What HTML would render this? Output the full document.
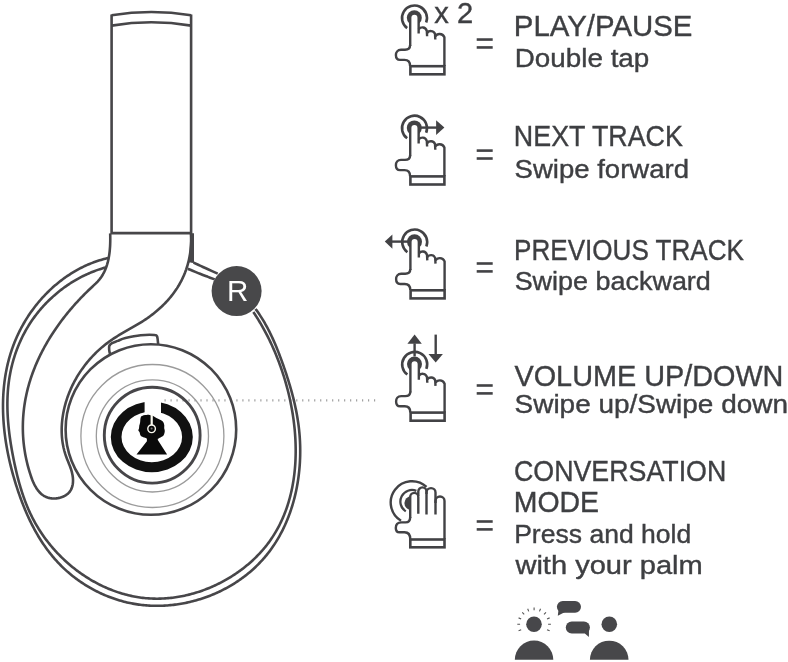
<!DOCTYPE html>
<html><head><meta charset="utf-8"><style>
html,body{margin:0;padding:0;background:#fff;}
svg{display:block;}
</style></head><body>
<svg width="788" height="662" viewBox="0 0 788 662">
<path d="M165.10,399.2v2.4 M171.09,399.2v2.4 M177.07,399.2v2.4 M183.06,399.2v2.4 M189.04,399.2v2.4 M195.03,399.2v2.4 M201.02,399.2v2.4 M207.00,399.2v2.4 M212.99,399.2v2.4 M218.97,399.2v2.4 M224.96,399.2v2.4 M230.95,399.2v2.4 M236.93,399.2v2.4 M242.92,399.2v2.4 M248.90,399.2v2.4 M254.89,399.2v2.4 M260.88,399.2v2.4 M266.86,399.2v2.4 M272.85,399.2v2.4 M278.83,399.2v2.4 M284.82,399.2v2.4 M290.81,399.2v2.4 M296.79,399.2v2.4 M302.78,399.2v2.4 M308.76,399.2v2.4 M314.75,399.2v2.4 M320.74,399.2v2.4 M326.72,399.2v2.4 M332.71,399.2v2.4 M338.69,399.2v2.4 M344.68,399.2v2.4 M350.67,399.2v2.4 M356.65,399.2v2.4 M362.64,399.2v2.4 M368.62,399.2v2.4 M374.61,399.2v2.4" stroke="#9a9a9a" stroke-width="1.1" fill="none"/>
<g fill="none" stroke="#474649" stroke-width="2.6" stroke-linejoin="round" stroke-linecap="butt">
<path d="M111.6,15.3 Q151.3,8.6 191.1,15.3"/>
<path d="M111.6,25.6 Q151.3,18.9 191.1,25.6"/>
<path d="M111.6,14.5 L111.6,233.1 M191.1,14.5 L191.1,233.1 M110.3,233.1 L192.4,233.1 M192.7,233.5 L192.7,262.8"/>
<path d="M110.18,233.38L110.22,234.78L110.25,236.20L110.26,237.64L110.27,239.11L110.26,240.59L110.23,242.09L110.19,243.60L110.13,245.12L110.05,246.64L109.94,248.18L109.82,249.72L109.67,251.26L109.49,252.80L109.29,254.34L109.06,255.87L108.80,257.40L108.51,258.92L108.18,260.43L107.83,261.92L107.43,263.40L107.00,264.87L106.53,266.31L106.02,267.73L105.47,269.13L104.88,270.51L104.25,271.86L103.58,273.18L102.86,274.48L102.10,275.74L101.30,276.97L100.45,278.16L99.55,279.32L98.61,280.44L97.63,281.53L96.61,282.59L95.57,283.63L94.50,284.65L93.42,285.66L92.33,286.68L91.24,287.69L90.16,288.71L89.08,289.74L88.00,290.77L86.93,291.81L85.87,292.86L84.80,293.92L83.75,294.98L82.70,296.06L81.65,297.13L80.61,298.22L79.57,299.31L78.54,300.41L77.52,301.51L76.50,302.62L75.49,303.74L74.48,304.87L73.48,306.00L72.49,307.14L71.50,308.28L70.52,309.43L69.54,310.59L68.57,311.76L67.61,312.93L66.66,314.10L65.71,315.28L64.77,316.47L63.84,317.67L62.92,318.87L62.00,320.07L61.09,321.29L60.19,322.50L59.29,323.73L58.41,324.96L57.53,326.19L56.66,327.43L55.80,328.68L54.94,329.93L54.10,331.19L53.26,332.45L52.44,333.72L51.62,334.99L50.81,336.27L50.01,337.56L49.22,338.84L48.44,340.14L47.66,341.44L46.90,342.74L46.15,344.05L45.41,345.36L44.67,346.68L43.95,348.00L43.24,349.33L42.54,350.66L41.85,352.00L41.17,353.34L40.49,354.69L39.84,356.04L39.19,357.40L38.55,358.75L37.92,360.12L37.31,361.49L36.70,362.86L36.11,364.23L35.53,365.61L34.96,367.00L34.40,368.39L33.86,369.78L33.32,371.17L32.80,372.57L32.29,373.98L31.80,375.38L31.31,376.79L30.84,378.21L30.38,379.63L29.94,381.05L29.50,382.47L29.08,383.90L28.68,385.33L28.28,386.77L27.90,388.20L27.53,389.65L27.18,391.09L26.84,392.54L26.51,393.99L26.20,395.44L25.90,396.89L25.61,398.35L25.34,399.81L25.08,401.28L24.83,402.74L24.60,404.21L24.39,405.68L24.18,407.16L23.99,408.63L23.82,410.11L23.66,411.59L23.51,413.07L23.38,414.56L23.26,416.04L23.16,417.53L23.07,419.02L22.99,420.51L22.93,422.01L22.89,423.50L22.86,425.00L22.84,426.50L22.84,428.00L22.85,429.50L22.88,431.01L22.93,432.51L22.99,434.02L23.06,435.53L23.15,437.03L23.26,438.54L23.38,440.05L23.51,441.57L23.66,443.08L23.83,444.59L24.01,446.11L24.21,447.62L24.43,449.14L24.66,450.65L24.90,452.17L25.16,453.69L25.44,455.21L25.74,456.73L26.05,458.24L26.37,459.76L26.72,461.28L27.07,462.80L27.45,464.32L27.84,465.84L28.25,467.36L28.67,468.88L29.12,470.40L29.57,471.92L30.05,473.44L30.54,474.95L31.06,476.46L31.59,477.96L32.15,479.44L32.74,480.90L33.35,482.33L34.00,483.73L34.68,485.10L35.39,486.42L36.15,487.70L36.94,488.93L37.78,490.11L38.65,491.23L39.58,492.28L40.55,493.27L41.58,494.19L42.66,495.02L43.79,495.78L44.98,496.44L46.23,497.02L47.54,497.50L48.91,497.88L50.32,498.17L51.76,498.36L53.24,498.45L54.72,498.45L56.22,498.36L57.70,498.17L59.17,497.89L60.62,497.52L62.02,497.06L63.39,496.51L64.69,495.86L65.93,495.13L67.09,494.31L68.17,493.40L69.14,492.41L70.01,491.33L70.76,490.16L71.40,488.92L71.92,487.60L72.34,486.23L72.65,484.80L72.86,483.33L72.98,481.83L73.01,480.31L72.96,478.77L72.83,477.23L72.62,475.70L72.34,474.18L72.00,472.67L71.61,471.19L71.16,469.72L70.68,468.26L70.16,466.81L69.61,465.37L69.05,463.94L68.48,462.51L67.90,461.08L67.33,459.65L66.77,458.23L66.23,456.79L65.72,455.35L65.24,453.91L64.80,452.46L64.38,451.00L64.00,449.53L63.64,448.06L63.32,446.59L63.03,445.11L62.76,443.62L62.53,442.13L62.33,440.64L62.15,439.15L62.00,437.65L61.88,436.15L61.79,434.65L61.73,433.14L61.69,431.64L61.68,430.13L61.69,428.63L61.73,427.12L61.80,425.62L61.89,424.11L62.00,422.61L62.14,421.11L62.30,419.61L62.49,418.12L62.70,416.62L62.93,415.14L63.18,413.65L63.46,412.17L63.75,410.69L64.07,409.22L64.41,407.76L64.77,406.30L65.15,404.84L65.55,403.39L65.97,401.95L66.41,400.51L66.87,399.08L67.35,397.66L67.85,396.24L68.37,394.83L68.91,393.43L69.47,392.03L70.05,390.64L70.64,389.26L71.26,387.89L71.89,386.52L72.54,385.17L73.21,383.82L73.89,382.48L74.60,381.15L75.32,379.83L76.06,378.52L76.81,377.22L77.58,375.93L78.37,374.64L79.18,373.37L80.00,372.11L80.84,370.86L81.69,369.62L82.56,368.39L83.45,367.17L84.35,365.97L85.26,364.77L86.19,363.59L87.14,362.42L88.10,361.26L89.07,360.11L90.06,358.98L91.07,357.86L92.08,356.75L93.12,355.65L94.16,354.57L95.22,353.51L96.29,352.45L97.37,351.41L98.47,350.38L99.58,349.37L100.70,348.38L101.84,347.39L102.98,346.43L104.14,345.47L105.31,344.54L106.50,343.62L107.69,342.71L108.89,341.82L110.11,340.95L111.34,340.09L112.57,339.25L113.82,338.42L115.07,337.61L116.34,336.80L117.61,336.01L118.89,335.23L120.17,334.46L121.46,333.69L122.75,332.93L124.05,332.18L125.35,331.43L126.65,330.68L127.96,329.94L129.26,329.19L130.57,328.45L131.88,327.70L133.18,326.95L134.49,326.20L135.79,325.44L137.09,324.68L138.38,323.91L139.67,323.13L140.96,322.34L142.24,321.54L143.51,320.73L144.78,319.91L146.04,319.07L147.29,318.22L148.53,317.35L149.76,316.47L150.98,315.57L152.19,314.65L153.39,313.72L154.58,312.78L155.76,311.82L156.92,310.84L158.07,309.85L159.21,308.84L160.33,307.82L161.45,306.79L162.54,305.74L163.62,304.68L164.69,303.60L165.74,302.51L166.77,301.40L167.79,300.28L168.79,299.15L169.77,298.00L170.74,296.84L171.68,295.67L172.61,294.48L173.52,293.28L174.41,292.07L175.28,290.84L176.12,289.60L176.95,288.35L177.75,287.08L178.54,285.81L179.30,284.52L180.03,283.22L180.75,281.90L181.44,280.58L182.11,279.24L182.75,277.89L183.37,276.53L183.97,275.16L184.55,273.78L185.10,272.40L185.62,271.00L186.13,269.59L186.60,268.17L187.06,266.75L187.49,265.32L187.90,263.88L188.28,262.43L188.64,260.97L188.98,259.51L189.29,258.04L189.58,256.57L189.84,255.09L190.08,253.60L190.29,252.11L190.48,250.62L190.64,249.12L190.78,247.61L190.90,246.10L190.99,244.59L191.05,243.08L191.09,241.56L191.11,240.04L191.10,238.52L191.06,237.00L191.00,235.47L190.92,233.94"/>
<path d="M190.2,233.5 L194,233.5 L194,262.6 L188.4,262.6 C189.4,255 190.1,245 190.2,233.5 Z" fill="#474649" stroke="none"/>
<path d="M108.34,257.93L106.85,258.28L105.37,258.66L103.89,259.05L102.42,259.46L100.96,259.89L99.50,260.34L98.06,260.80L96.62,261.29L95.19,261.79L93.76,262.31L92.35,262.85L90.94,263.40L89.54,263.98L88.15,264.57L86.77,265.17L85.39,265.80L84.03,266.44L82.67,267.10L81.32,267.77L79.98,268.46L78.65,269.16L77.33,269.88L76.01,270.62L74.71,271.37L73.41,272.14L72.13,272.92L70.85,273.72L69.58,274.53L68.32,275.36L67.08,276.20L65.84,277.05L64.61,277.92L63.39,278.80L62.18,279.70L60.98,280.61L59.79,281.53L58.61,282.47L57.44,283.42L56.29,284.38L55.14,285.36L54.00,286.34L52.87,287.34L51.76,288.36L50.65,289.38L49.56,290.42L48.48,291.46L47.40,292.52L46.34,293.59L45.29,294.67L44.25,295.77L43.23,296.87L42.21,297.98L41.21,299.11L40.21,300.24L39.23,301.38L38.26,302.54L37.31,303.70L36.36,304.88L35.43,306.06L34.51,307.25L33.60,308.45L32.70,309.66L31.82,310.88L30.95,312.11L30.09,313.34L29.24,314.59L28.41,315.84L27.59,317.10L26.78,318.37L25.99,319.64L25.21,320.92L24.44,322.21L23.69,323.51L22.94,324.81L22.22,326.12L21.50,327.44L20.80,328.76L20.11,330.09L19.44,331.43L18.78,332.77L18.14,334.11L17.50,335.46L16.89,336.82L16.29,338.18L15.70,339.55L15.12,340.92L14.56,342.30L14.02,343.68L13.49,345.06L12.97,346.45L12.47,347.85L11.98,349.25L11.50,350.65L11.04,352.05L10.60,353.47L10.16,354.88L9.74,356.30L9.34,357.72L8.94,359.15L8.56,360.57L8.20,362.01L7.84,363.44L7.50,364.88L7.18,366.33L6.86,367.77L6.56,369.22L6.28,370.67L6.00,372.13L5.74,373.59L5.49,375.05L5.25,376.51L5.02,377.98L4.81,379.45L4.61,380.92L4.42,382.39L4.25,383.87L4.08,385.35L3.93,386.83L3.79,388.31L3.66,389.80L3.54,391.29L3.44,392.77L3.34,394.27L3.26,395.76L3.19,397.25L3.13,398.75L3.08,400.24L3.05,401.74L3.02,403.24L3.00,404.74L3.00,406.25L3.01,407.75L3.02,409.25L3.05,410.76L3.09,412.27L3.14,413.77L3.20,415.28L3.27,416.79L3.35,418.30L3.44,419.81L3.54,421.32L3.65,422.83L3.77,424.34L3.90,425.85L4.04,427.36L4.19,428.87L4.35,430.38L4.51,431.89L4.69,433.40L4.88,434.91L5.08,436.42L5.28,437.93L5.50,439.44L5.72,440.95L5.95,442.45L6.20,443.96L6.45,445.47L6.71,446.97L6.98,448.47L7.25,449.98L7.54,451.48L7.83,452.98L8.13,454.48L8.44,455.97L8.76,457.47L9.09,458.96L9.42,460.46L9.76,461.95L10.11,463.44L10.47,464.92L10.84,466.41L11.21,467.89L11.59,469.37L11.98,470.85L12.38,472.33L12.78,473.81L13.19,475.28L13.61,476.75L14.03,478.21L14.46,479.68L14.90,481.14L15.34,482.60L15.80,484.05L16.25,485.51L16.72,486.96L17.19,488.40L17.67,489.85L18.15,491.29L18.64,492.72L19.14,494.16L19.64,495.59L20.15,497.01L20.67,498.44L21.19,499.85L21.72,501.27L22.26,502.68L22.81,504.08L23.36,505.48L23.92,506.88L24.49,508.27L25.06,509.66L25.65,511.04L26.24,512.42L26.83,513.79L27.44,515.16L28.06,516.52L28.68,517.88L29.31,519.23L29.95,520.57L30.60,521.91L31.26,523.24L31.93,524.57L32.60,525.89L33.29,527.21L33.98,528.51L34.68,529.82L35.39,531.11L36.12,532.40L36.85,533.68L37.59,534.96L38.34,536.22L39.10,537.48L39.87,538.74L40.66,539.98L41.45,541.22L42.25,542.45L43.06,543.67L43.88,544.89L44.72,546.09L45.56,547.29L46.42,548.48L47.29,549.66L48.16,550.83L49.05,552.00L49.95,553.16L50.87,554.30L51.79,555.44L52.73,556.57L53.67,557.69L54.63,558.80L55.60,559.90L56.59,560.99L57.58,562.07L58.59,563.15L59.61,564.21L60.65,565.26L61.69,566.30L62.75,567.33L63.82,568.36L64.91,569.37L66.00,570.37L67.11,571.36L68.24,572.34L69.37,573.30L70.52,574.26L71.68,575.20L72.85,576.14L74.03,577.06L75.22,577.97L76.42,578.87L77.64,579.76L78.86,580.63L80.10,581.49L81.35,582.34L82.60,583.18L83.87,584.00L85.14,584.81L86.43,585.61L87.72,586.39L89.03,587.16L90.34,587.92L91.66,588.67L92.99,589.40L94.33,590.11L95.67,590.81L97.03,591.50L98.39,592.17L99.76,592.83L101.13,593.48L102.52,594.11L103.91,594.72L105.30,595.32L106.71,595.90L108.12,596.47L109.53,597.02L110.96,597.56L112.38,598.08L113.82,598.59L115.25,599.08L116.70,599.55L118.15,600.00L119.60,600.44L121.06,600.87L122.52,601.27L123.98,601.66L125.45,602.03L126.93,602.39L128.40,602.72L129.88,603.04L131.37,603.34L132.85,603.63L134.34,603.89L135.84,604.14L137.33,604.37L138.83,604.59L140.33,604.78L141.83,604.96L143.33,605.12L144.83,605.27L146.34,605.40L147.85,605.51L149.35,605.60L150.86,605.68L152.37,605.74L153.88,605.78L155.39,605.81L156.91,605.82L158.42,605.81L159.93,605.79L161.44,605.75L162.95,605.69L164.46,605.62L165.97,605.53L167.48,605.43L168.98,605.30L170.49,605.17L171.99,605.02L173.50,604.85L175.00,604.66L176.49,604.46L177.99,604.25L179.49,604.01L180.98,603.77L182.47,603.51L183.95,603.23L185.44,602.93L186.92,602.63L188.39,602.30L189.87,601.96L191.34,601.61L192.80,601.24L194.27,600.86L195.72,600.46L197.18,600.04L198.63,599.62L200.07,599.17L201.51,598.72L202.94,598.24L204.37,597.76L205.80,597.26L207.21,596.74L208.63,596.21L210.03,595.67L211.43,595.11L212.83,594.54L214.22,593.95L215.60,593.35L216.97,592.74L218.34,592.11L219.70,591.47L221.05,590.81L222.40,590.15L223.74,589.46L225.07,588.77L226.39,588.06L227.71,587.34L229.01,586.60L230.31,585.85L231.60,585.09L232.88,584.31L234.15,583.53L235.42,582.73L236.67,581.91L237.91,581.08L239.15,580.25L240.37,579.39L241.59,578.53L242.79,577.65L243.99,576.76L245.17,575.86L246.34,574.94L247.50,574.02L248.65,573.08L249.79,572.13L250.92,571.16L252.04,570.19L253.15,569.20L254.24,568.20L255.32,567.19L256.39,566.17L257.45,565.14L258.49,564.09L259.52,563.03L260.54,561.96L261.55,560.88L262.54,559.79L263.52,558.69L264.49,557.58L265.44,556.45L266.38,555.32L267.30,554.17L268.22,553.01L269.11,551.84L270.00,550.67L270.87,549.48L271.73,548.28L272.58,547.07L273.41,545.85L274.23,544.63L275.03,543.39L275.83,542.15L276.60,540.89L277.37,539.63L278.12,538.36L278.86,537.07L279.59,535.78L280.30,534.49L281.01,533.18L281.69,531.87L282.37,530.54L283.03,529.21L283.68,527.88L284.31,526.53L284.94,525.18L285.55,523.82L286.15,522.46L286.73,521.08L287.30,519.70L287.86,518.32L288.41,516.93L288.94,515.53L289.46,514.12L289.97,512.71L290.47,511.29L290.95,509.87L291.42,508.45L291.88,507.01L292.32,505.57L292.76,504.13L293.18,502.68L293.58,501.23L293.98,499.77L294.36,498.31L294.73,496.85L295.09,495.38L295.44,493.90L295.77,492.43L296.09,490.94L296.40,489.46L296.70,487.97L296.98,486.48L297.25,484.99L297.51,483.49L297.76,481.99L298.00,480.48L298.22,478.98L298.43,477.47L298.63,475.96L298.82,474.45L299.00,472.94L299.16,471.42L299.31,469.91L299.45,468.39L299.58,466.87L299.70,465.35L299.80,463.83L299.89,462.30L299.97,460.78L300.04,459.26L300.10,457.73L300.15,456.21L300.18,454.69L300.20,453.16L300.21,451.64L300.21,450.11L300.20,448.59L300.17,447.07L300.14,445.55L300.09,444.03L300.03,442.51L299.96,440.99L299.88,439.48L299.78,437.96L299.68,436.45L299.56,434.94L299.43,433.43L299.29,431.92L299.14,430.42L298.98,428.92L298.81,427.42L298.63,425.92L298.43,424.43L298.23,422.93L298.01,421.45L297.78,419.96L297.55,418.47L297.30,416.99L297.04,415.51L296.78,414.04L296.50,412.56L296.22,411.09L295.92,409.62L295.62,408.15L295.31,406.68L294.99,405.22L294.66,403.76L294.32,402.30L293.98,400.84L293.62,399.39L293.26,397.93L292.89,396.48L292.52,395.03L292.13,393.59L291.74,392.14L291.34,390.70L290.94,389.26L290.53,387.82L290.11,386.38L289.69,384.94L289.26,383.51L288.82,382.08L288.38,380.65L287.93,379.22L287.48,377.79L287.02,376.37L286.56,374.94L286.09,373.52L285.62,372.10L285.14,370.68L284.66,369.26L284.17,367.85L283.68,366.43L283.19,365.02L282.69,363.61L282.19,362.20L281.68,360.79L281.17,359.39L280.65,357.98L280.13,356.58L279.61,355.18L279.07,353.79L278.53,352.39L277.99,351.00L277.44,349.61L276.88,348.23L276.31,346.85L275.74,345.47L275.16,344.09L274.57,342.72L273.97,341.36L273.37,340.00L272.75,338.64L272.13,337.28L271.50,335.93L270.85,334.59L270.20,333.25L269.54,331.91L268.86,330.58L268.18,329.26L267.48,327.94L266.78,326.63L266.06,325.32L265.33,324.02L264.58,322.72L263.83,321.43L263.06,320.15L262.28,318.87L261.48,317.60L260.67,316.34L259.85,315.09L259.02,313.84L258.16,312.59L257.30,311.36L256.42,310.13L255.52,308.92"/>
<path d="M105.74,267.41L104.29,267.82L102.84,268.24L101.40,268.69L99.96,269.15L98.53,269.63L97.10,270.13L95.68,270.64L94.27,271.17L92.86,271.72L91.46,272.29L90.06,272.87L88.68,273.47L87.29,274.09L85.92,274.72L84.55,275.37L83.19,276.03L81.84,276.71L80.50,277.41L79.16,278.12L77.83,278.85L76.51,279.59L75.20,280.35L73.89,281.12L72.60,281.91L71.31,282.71L70.03,283.52L68.76,284.35L67.50,285.20L66.25,286.06L65.01,286.93L63.78,287.82L62.56,288.72L61.35,289.63L60.15,290.56L58.96,291.50L57.78,292.45L56.62,293.42L55.46,294.40L54.31,295.39L53.18,296.39L52.05,297.41L50.94,298.43L49.84,299.47L48.75,300.52L47.68,301.59L46.61,302.66L45.56,303.75L44.52,304.84L43.50,305.95L42.48,307.07L41.48,308.20L40.49,309.34L39.52,310.49L38.56,311.65L37.61,312.82L36.68,314.01L35.76,315.20L34.86,316.40L33.97,317.61L33.09,318.83L32.23,320.06L31.39,321.29L30.55,322.54L29.74,323.80L28.94,325.06L28.15,326.33L27.38,327.61L26.62,328.90L25.88,330.20L25.15,331.50L24.44,332.81L23.74,334.13L23.06,335.46L22.39,336.79L21.74,338.14L21.10,339.48L20.47,340.84L19.87,342.20L19.27,343.57L18.69,344.94L18.13,346.32L17.58,347.70L17.04,349.09L16.52,350.49L16.01,351.89L15.52,353.30L15.05,354.71L14.58,356.13L14.14,357.55L13.70,358.98L13.28,360.41L12.88,361.84L12.49,363.28L12.12,364.72L11.76,366.17L11.41,367.62L11.08,369.07L10.77,370.53L10.47,371.99L10.18,373.45L9.91,374.92L9.65,376.38L9.41,377.86L9.18,379.33L8.97,380.80L8.77,382.28L8.58,383.76L8.41,385.24L8.26,386.72L8.11,388.21L7.98,389.69L7.87,391.18L7.76,392.67L7.67,394.16L7.60,395.65L7.53,397.15L7.48,398.64L7.44,400.14L7.41,401.64L7.39,403.13L7.39,404.63L7.40,406.13L7.42,407.64L7.45,409.14L7.49,410.64L7.54,412.14L7.60,413.65L7.67,415.15L7.76,416.66L7.85,418.16L7.95,419.67L8.06,421.17L8.19,422.68L8.32,424.19L8.46,425.69L8.61,427.20L8.77,428.71L8.93,430.21L9.11,431.72L9.29,433.22L9.48,434.73L9.68,436.23L9.89,437.74L10.11,439.24L10.33,440.75L10.56,442.25L10.79,443.75L11.04,445.25L11.29,446.75L11.54,448.25L11.81,449.75L12.07,451.25L12.35,452.74L12.63,454.24L12.92,455.73L13.21,457.22L13.50,458.71L13.80,460.20L14.11,461.69L14.42,463.18L14.74,464.66L15.06,466.14L15.39,467.62L15.72,469.10L16.06,470.58L16.41,472.05L16.76,473.52L17.12,474.99L17.49,476.45L17.86,477.92L18.24,479.37L18.63,480.83L19.03,482.28L19.43,483.73L19.84,485.18L20.27,486.62L20.70,488.06L21.14,489.50L21.59,490.93L22.04,492.36L22.51,493.78L22.99,495.20L23.48,496.62L23.97,498.03L24.48,499.43L25.00,500.83L25.53,502.23L26.07,503.62L26.63,505.01L27.19,506.39L27.77,507.77L28.36,509.14L28.96,510.50L29.57,511.86L30.20,513.21L30.84,514.56L31.49,515.90L32.16,517.24L32.83,518.57L33.53,519.89L34.23,521.21L34.96,522.52L35.69,523.82L36.44,525.12L37.20,526.41L37.98,527.69L38.76,528.97L39.57,530.23L40.38,531.50L41.21,532.75L42.05,533.99L42.90,535.23L43.77,536.46L44.64,537.68L45.53,538.90L46.44,540.10L47.35,541.30L48.28,542.48L49.21,543.66L50.16,544.83L51.13,545.99L52.10,547.15L53.08,548.29L54.08,549.42L55.08,550.55L56.10,551.66L57.13,552.77L58.17,553.86L59.22,554.95L60.28,556.02L61.35,557.09L62.43,558.14L63.52,559.18L64.62,560.22L65.73,561.24L66.85,562.25L67.98,563.25L69.12,564.24L70.27,565.22L71.42,566.19L72.59,567.14L73.77,568.09L74.95,569.02L76.14,569.94L77.35,570.85L78.56,571.74L79.78,572.63L81.00,573.50L82.24,574.36L83.48,575.20L84.73,576.04L85.99,576.86L87.26,577.66L88.53,578.46L89.81,579.24L91.10,580.01L92.40,580.76L93.70,581.50L95.01,582.23L96.33,582.94L97.65,583.64L98.98,584.33L100.32,585.00L101.66,585.65L103.01,586.30L104.37,586.92L105.73,587.54L107.10,588.13L108.47,588.72L109.85,589.28L111.23,589.83L112.62,590.37L114.02,590.89L115.42,591.40L116.82,591.89L118.23,592.36L119.65,592.82L121.06,593.26L122.49,593.68L123.92,594.09L125.35,594.49L126.78,594.86L128.22,595.22L129.67,595.56L131.12,595.89L132.57,596.19L134.02,596.48L135.48,596.76L136.94,597.01L138.41,597.25L139.88,597.47L141.35,597.67L142.82,597.86L144.30,598.02L145.78,598.17L147.26,598.30L148.74,598.41L150.23,598.50L151.71,598.57L153.20,598.63L154.70,598.66L156.19,598.68L157.68,598.68L159.18,598.66L160.67,598.62L162.17,598.57L163.67,598.50L165.17,598.41L166.66,598.30L168.16,598.17L169.66,598.03L171.15,597.87L172.65,597.69L174.14,597.49L175.64,597.28L177.13,597.05L178.62,596.81L180.11,596.54L181.60,596.26L183.08,595.97L184.57,595.65L186.05,595.33L187.53,594.98L189.00,594.62L190.47,594.24L191.94,593.85L193.41,593.44L194.87,593.02L196.33,592.58L197.78,592.12L199.23,591.65L200.68,591.17L202.12,590.66L203.55,590.15L204.98,589.62L206.41,589.07L207.83,588.51L209.24,587.93L210.65,587.34L212.05,586.74L213.45,586.12L214.84,585.49L216.22,584.84L217.60,584.18L218.97,583.51L220.33,582.82L221.69,582.12L223.03,581.40L224.37,580.67L225.71,579.93L227.03,579.17L228.34,578.40L229.65,577.62L230.95,576.83L232.24,576.02L233.52,575.20L234.79,574.37L236.05,573.52L237.30,572.66L238.54,571.79L239.77,570.91L240.99,570.01L242.20,569.11L243.40,568.19L244.59,567.26L245.77,566.32L246.93,565.36L248.09,564.40L249.23,563.42L250.36,562.43L251.48,561.44L252.58,560.43L253.68,559.40L254.76,558.37L255.83,557.33L256.88,556.28L257.92,555.21L258.95,554.14L259.97,553.06L260.97,551.96L261.95,550.86L262.93,549.74L263.88,548.62L264.83,547.48L265.76,546.34L266.67,545.19L267.57,544.03L268.45,542.85L269.32,541.67L270.17,540.48L271.01,539.28L271.83,538.07L272.63,536.86L273.42,535.63L274.20,534.40L274.96,533.15L275.71,531.90L276.44,530.64L277.15,529.38L277.85,528.10L278.54,526.82L279.21,525.53L279.87,524.23L280.51,522.92L281.14,521.61L281.75,520.29L282.35,518.96L282.94,517.63L283.51,516.28L284.07,514.94L284.61,513.58L285.14,512.22L285.66,510.85L286.16,509.48L286.65,508.10L287.12,506.71L287.58,505.32L288.03,503.92L288.46,502.52L288.88,501.11L289.29,499.69L289.68,498.27L290.06,496.84L290.43,495.41L290.79,493.98L291.13,492.54L291.46,491.09L291.77,489.64L292.08,488.19L292.37,486.73L292.64,485.27L292.91,483.80L293.16,482.33L293.40,480.85L293.63,479.37L293.84,477.89L294.05,476.40L294.24,474.91L294.42,473.42L294.58,471.92L294.74,470.42L294.88,468.92L295.01,467.41L295.13,465.90L295.24,464.39L295.33,462.88L295.42,461.36L295.49,459.85L295.55,458.32L295.60,456.80L295.64,455.28L295.67,453.75L295.69,452.22L295.69,450.69L295.69,449.16L295.67,447.63L295.64,446.10L295.60,444.56L295.55,443.02L295.49,441.49L295.42,439.95L295.34,438.41L295.25,436.87L295.15,435.33L295.04,433.79L294.91,432.26L294.78,430.72L294.64,429.18L294.49,427.64L294.32,426.10L294.15,424.56L293.97,423.02L293.77,421.48L293.57,419.95L293.36,418.41L293.14,416.87L292.91,415.34L292.67,413.81L292.42,412.28L292.16,410.75L291.89,409.22L291.61,407.69L291.33,406.17L291.03,404.64L290.72,403.12L290.41,401.61L290.09,400.09L289.76,398.58L289.42,397.06L289.07,395.56L288.71,394.05L288.34,392.55L287.97,391.05L287.59,389.55L287.20,388.06L286.80,386.57L286.39,385.08L285.97,383.60L285.55,382.12L285.12,380.64L284.68,379.17L284.23,377.70L283.78,376.24L283.32,374.78L282.84,373.32L282.37,371.87L281.88,370.43L281.39,368.99L280.89,367.55L280.38,366.12L279.87,364.69L279.34,363.27L278.82,361.86L278.28,360.45L277.74,359.04L277.19,357.65L276.63,356.25L276.07,354.87L275.50,353.48L274.92,352.11L274.34,350.74L273.75,349.38L273.15,348.02L272.55,346.68L271.94,345.33L271.32,344.00L270.70,342.67L270.08,341.35L269.44,340.04L268.80,338.73L268.16,337.43L267.51,336.14L266.85,334.86L266.19,333.58L265.52,332.31L264.85,331.05L264.17,329.80L263.48,328.56L262.79,327.32L262.10,326.10L261.40,324.88L260.70,323.67L259.98,322.47L259.27,321.28L258.55,320.10L257.82,318.93L257.10,317.76L256.36,316.61L255.62,315.46L254.88,314.33L254.13,313.21L253.38,312.09"/>
<path d="M193.5,262.6 C194.6,263.1 197.6,264.5 200.0,265.6 C202.4,266.7 205.1,268.0 208.0,269.3 C210.9,270.6 216.1,272.9 217.7,273.6"/>
<path d="M187.9,268.7 C189.9,269.6 196.7,272.4 200.0,273.8 C203.3,275.2 205.6,276.0 208.0,276.9 C210.4,277.8 213.6,279.0 214.7,279.4"/>
<circle cx="150.9" cy="429.5" r="85.3"/>
<path d="M110.2,354.5 C110.0,353.8 109.3,351.5 109.2,350.0 C109.1,348.5 108.9,346.7 109.4,345.6 C109.9,344.5 110.6,344.0 112.0,343.2 C113.4,342.4 115.5,341.8 117.8,340.9 C120.0,340.0 121.7,339.0 125.5,338.1 C129.3,337.2 135.9,335.8 140.7,335.3 C145.5,334.8 151.7,334.8 154.4,335.0 C157.2,335.2 156.6,335.2 157.2,336.8 C157.8,338.4 158.0,343.2 158.2,344.5"/>
</g>
<g fill="none" stroke="#9b9b9b" stroke-width="1.3">
<circle cx="152.4" cy="436" r="71.5"/>
<circle cx="152.4" cy="435.9" r="56.1"/>
</g>
<circle cx="152.2" cy="435.2" r="47.9" fill="none" stroke="#474649" stroke-width="2.9"/>
<path fill="#111" fill-rule="evenodd" d="M110.80000000000001,436.9 a41.0,35.3 0 1,0 82.0,0 a41.0,35.3 0 1,0 -82.0,0Z M121.50000000000001,436.9 a30.3,25.3 0 1,0 60.6,0 a30.3,25.3 0 1,0 -60.6,0Z"/>
<rect x="144.6" y="398" width="16.4" height="16" fill="#fff"/>
<path fill="#0a0a0a" d="M141.0,416.5 C141.4,416.3 142.8,415.5 143.7,415.2 C144.6,414.9 145.5,414.9 146.5,414.9 C147.5,414.8 148.5,414.7 149.6,414.9 C150.7,415.1 152.1,415.4 153.2,415.9 C154.3,416.4 155.3,417.3 156.4,417.9 C157.5,418.5 158.6,419.0 159.6,419.5 C160.6,420.0 161.6,420.5 162.3,421.1 C163.0,421.7 163.5,422.6 163.8,423.3 C164.1,424.1 164.2,424.8 164.3,425.6 C164.4,426.4 164.1,427.4 164.2,428.3 C164.3,429.2 164.8,430.0 164.8,431.0 C164.8,432.0 164.4,433.3 164.1,434.2 C163.8,435.1 163.3,435.8 162.7,436.3 C162.1,436.8 161.3,437.0 160.5,437.4 C159.7,437.8 158.2,438.6 157.8,438.8 L157.8,440 L167.1,454.6 L136.5,454.6 L146.9,441.2 L146.9,438.8 C146.6,438.6 146.0,438.2 145.1,437.8 C144.2,437.4 142.4,437.0 141.6,436.5 C140.8,436.0 140.5,435.4 140.2,434.7 C139.9,434.0 139.9,432.9 139.6,432.2 C139.3,431.5 138.5,431.0 138.4,430.4 C138.3,429.8 138.8,429.3 139.0,428.5 C139.2,427.7 139.1,426.6 139.3,425.6 C139.5,424.6 139.9,423.5 140.1,422.4 C140.3,421.3 140.3,419.4 140.4,418.8 Z"/>
<path d="M151.7,414.6 L151.7,425.2" stroke="#fbfaf0" stroke-width="2.2" fill="none"/>
<circle cx="151.6" cy="428.8" r="3.8" fill="#0a0a0a" stroke="#fbfaf0" stroke-width="1.4"/>
<circle cx="151.6" cy="428.6" r="1.0" fill="#777"/>
<circle cx="236.6" cy="291.1" r="25" fill="#48484a"/>
<text x="237.6" y="301.2" text-anchor="middle" font-family="Liberation Sans" font-size="29.5" fill="#fff" style="will-change:transform">R</text>
<g transform="translate(0,0)">
<path d="M407.15,28.11 A12.5,12.5 0 1,1 426.17,22.48" fill="none" stroke="#424245" stroke-width="2.6"/>
<circle cx="414.3" cy="17.7" r="7.5" fill="#424245"/>

<path d="M410.2,47 L410.2,17.8 A4.22,4.22 0 0,1 418.65,17.8 L418.65,30 L427,33.8 L435.3,36.8 L444.4,37.8 L444.4,66.2 L410.2,66.2 C410.1,62 408,59.9 404.5,59.9 L400,59.9 C397,59.9 395.9,58 395.9,55 C395.9,52.5 397.5,49.7 401,49.7 L405,49.7 Q409.9,49.7 410.2,45 Z" fill="#fff" stroke="none"/>
<g fill="none" stroke="#424245" stroke-width="2.4" stroke-linejoin="round">
<path d="M410.2,46 L410.2,17.8 A4.22,4.22 0 0,1 418.65,17.8 L418.65,33.4"/>
<path d="M418.65,29.4 C420.5,26.8 425.5,26.3 426.8,30.8 L427.1,36.3"/>
<path d="M427.1,33 C429,30.3 433.5,30.3 435,33.8 L435.3,39.5"/>
<path d="M435.3,36.3 C437,33.3 442.5,32.8 444.4,37.3 L444.4,66"/>
<path d="M410.1,45 Q410.1,49.7 405,49.7 L401,49.7 C397.5,49.7 395.9,52.5 395.9,55 C395.9,58 397,59.9 400,59.9 L404.5,59.9 C408,59.9 410.1,62 410.1,66"/>
<rect x="410.4" y="66.2" width="34" height="8.1" stroke-width="2.6" stroke-linejoin="miter"/>
</g></g>
<g transform="translate(0,110.2)">
<path d="M407.15,28.11 A12.5,12.5 0 1,1 426.17,22.48" fill="none" stroke="#424245" stroke-width="2.6"/>
<circle cx="414.3" cy="17.7" r="7.5" fill="#424245"/>
<path d="M420,17.4 H437" stroke="#424245" stroke-width="2.4"/><path d="M436.1,10.1 L444.4,17.4 L436.1,24.7Z" fill="#424245"/>
<path d="M410.2,47 L410.2,17.8 A4.22,4.22 0 0,1 418.65,17.8 L418.65,30 L427,33.8 L435.3,36.8 L444.4,37.8 L444.4,66.2 L410.2,66.2 C410.1,62 408,59.9 404.5,59.9 L400,59.9 C397,59.9 395.9,58 395.9,55 C395.9,52.5 397.5,49.7 401,49.7 L405,49.7 Q409.9,49.7 410.2,45 Z" fill="#fff" stroke="none"/>
<g fill="none" stroke="#424245" stroke-width="2.4" stroke-linejoin="round">
<path d="M410.2,46 L410.2,17.8 A4.22,4.22 0 0,1 418.65,17.8 L418.65,33.4"/>
<path d="M418.65,29.4 C420.5,26.8 425.5,26.3 426.8,30.8 L427.1,36.3"/>
<path d="M427.1,33 C429,30.3 433.5,30.3 435,33.8 L435.3,39.5"/>
<path d="M435.3,36.3 C437,33.3 442.5,32.8 444.4,37.3 L444.4,66"/>
<path d="M410.1,45 Q410.1,49.7 405,49.7 L401,49.7 C397.5,49.7 395.9,52.5 395.9,55 C395.9,58 397,59.9 400,59.9 L404.5,59.9 C408,59.9 410.1,62 410.1,66"/>
<rect x="410.4" y="66.2" width="34" height="8.1" stroke-width="2.6" stroke-linejoin="miter"/>
</g></g>
<g transform="translate(0.2,224.1)">
<path d="M407.15,28.11 A12.5,12.5 0 1,1 426.17,22.48" fill="none" stroke="#424245" stroke-width="2.6"/>
<circle cx="414.3" cy="17.7" r="7.5" fill="#424245"/>
<path d="M408,17.5 H391" stroke="#424245" stroke-width="2.4"/><path d="M392.2,10.4 L384.6,17.5 L392.2,24.6Z" fill="#424245"/>
<path d="M410.2,47 L410.2,17.8 A4.22,4.22 0 0,1 418.65,17.8 L418.65,30 L427,33.8 L435.3,36.8 L444.4,37.8 L444.4,66.2 L410.2,66.2 C410.1,62 408,59.9 404.5,59.9 L400,59.9 C397,59.9 395.9,58 395.9,55 C395.9,52.5 397.5,49.7 401,49.7 L405,49.7 Q409.9,49.7 410.2,45 Z" fill="#fff" stroke="none"/>
<g fill="none" stroke="#424245" stroke-width="2.4" stroke-linejoin="round">
<path d="M410.2,46 L410.2,17.8 A4.22,4.22 0 0,1 418.65,17.8 L418.65,33.4"/>
<path d="M418.65,29.4 C420.5,26.8 425.5,26.3 426.8,30.8 L427.1,36.3"/>
<path d="M427.1,33 C429,30.3 433.5,30.3 435,33.8 L435.3,39.5"/>
<path d="M435.3,36.3 C437,33.3 442.5,32.8 444.4,37.3 L444.4,66"/>
<path d="M410.1,45 Q410.1,49.7 405,49.7 L401,49.7 C397.5,49.7 395.9,52.5 395.9,55 C395.9,58 397,59.9 400,59.9 L404.5,59.9 C408,59.9 410.1,62 410.1,66"/>
<rect x="410.4" y="66.2" width="34" height="8.1" stroke-width="2.6" stroke-linejoin="miter"/>
</g></g>
<g transform="translate(0.2,346.4)">
<path d="M407.15,28.11 A12.5,12.5 0 1,1 426.17,22.48" fill="none" stroke="#424245" stroke-width="2.6"/>
<circle cx="414.3" cy="17.7" r="7.5" fill="#424245"/>
<path d="M414.4,10 V-3" stroke="#424245" stroke-width="2.4"/><path d="M407.2,-2.6 L414.4,-11.8 L421.6,-2.6Z" fill="#424245"/><path d="M435.5,-11.8 V8" stroke="#424245" stroke-width="2.4"/><path d="M428.3,7.6 L435.5,16.2 L442.7,7.6Z" fill="#424245"/>
<path d="M410.2,47 L410.2,17.8 A4.22,4.22 0 0,1 418.65,17.8 L418.65,30 L427,33.8 L435.3,36.8 L444.4,37.8 L444.4,66.2 L410.2,66.2 C410.1,62 408,59.9 404.5,59.9 L400,59.9 C397,59.9 395.9,58 395.9,55 C395.9,52.5 397.5,49.7 401,49.7 L405,49.7 Q409.9,49.7 410.2,45 Z" fill="#fff" stroke="none"/>
<g fill="none" stroke="#424245" stroke-width="2.4" stroke-linejoin="round">
<path d="M410.2,46 L410.2,17.8 A4.22,4.22 0 0,1 418.65,17.8 L418.65,33.4"/>
<path d="M418.65,29.4 C420.5,26.8 425.5,26.3 426.8,30.8 L427.1,36.3"/>
<path d="M427.1,33 C429,30.3 433.5,30.3 435,33.8 L435.3,39.5"/>
<path d="M435.3,36.3 C437,33.3 442.5,32.8 444.4,37.3 L444.4,66"/>
<path d="M410.1,45 Q410.1,49.7 405,49.7 L401,49.7 C397.5,49.7 395.9,52.5 395.9,55 C395.9,58 397,59.9 400,59.9 L404.5,59.9 C408,59.9 410.1,62 410.1,66"/>
<rect x="410.4" y="66.2" width="34" height="8.1" stroke-width="2.6" stroke-linejoin="miter"/>
</g></g>
<g transform="translate(0,0)">
<path d="M401.03,520.76 A21.3,21.3 0 1,1 426.53,486.92" fill="none" stroke="#424245" stroke-width="2.4"/>
<circle cx="411.3" cy="503.1" r="6.9" fill="#424245"/>
<path d="M410.2,519 L410.2,496.95 A4.05,4.05 0 0,1 418.3,496.95 L418.3,491.5 A4.1,4.1 0 0,1 426.5,491.5 L426.5,492.6 A4.5,4.5 0 0,1 435.5,492.6 L435.5,501 A4.5,4.5 0 0,1 444.5,501 L444.5,539.5 L410.3,539.5 C410.3,535 408,532.3 404.5,532.3 L399.5,532.3 C397,532.3 395.8,530.5 395.8,528 C395.8,525 397.5,522.4 401.5,522.4 L405.6,522.4 Q410.2,522.4 410.2,517 Z" fill="#fff" stroke="none"/>
<g fill="none" stroke="#424245" stroke-width="2.4" stroke-linejoin="round">
<path d="M410.2,518 L410.2,496.95 A4.05,4.05 0 0,1 418.3,496.95 L418.3,513.8"/>
<path d="M418.3,496 L418.3,491.5 A4.1,4.1 0 0,1 426.5,491.5 L426.5,514.6"/>
<path d="M426.5,494 L426.5,492.6 A4.5,4.5 0 0,1 435.5,492.6 L435.5,514.6"/>
<path d="M435.5,503 L435.5,501 A4.5,4.5 0 0,1 444.5,501 L444.5,539"/>
<path d="M410.2,517 Q410.2,522.4 405.6,522.4 L401.5,522.4 C397.5,522.4 395.8,525 395.8,528 C395.8,530.5 397,532.3 399.5,532.3 L404.5,532.3 C408,532.3 410.3,535 410.3,539.5"/>
<rect x="410.3" y="539.5" width="34.2" height="7.8" stroke-width="2.6" stroke-linejoin="miter"/>
<path d="M405.77,511.38 A11.6,11.6 0 0,1 416.35,490.84" stroke-width="2.3"/>
</g></g>
<g font-family="Liberation Sans" fill="#3e3f42" stroke="#3e3f42" stroke-width="0.4" style="will-change:transform">
<text x="513.85" y="35.9" font-size="30.3" textLength="178.62" lengthAdjust="spacingAndGlyphs">PLAY/PAUSE</text>
<text x="514.77" y="66.5" font-size="26.3" textLength="134.53" lengthAdjust="spacingAndGlyphs">Double tap</text>
<text x="513.85" y="146.0" font-size="30.3" textLength="169.03" lengthAdjust="spacingAndGlyphs">NEXT TRACK</text>
<text x="514.62" y="177.5" font-size="26.3" textLength="174.39" lengthAdjust="spacingAndGlyphs">Swipe forward</text>
<text x="514.11" y="259.7" font-size="30.3" textLength="229.83" lengthAdjust="spacingAndGlyphs">PREVIOUS TRACK</text>
<text x="514.65" y="290.4" font-size="26.3" textLength="196.20" lengthAdjust="spacingAndGlyphs">Swipe backward</text>
<text x="514.51" y="385.5" font-size="30.3" textLength="268.91" lengthAdjust="spacingAndGlyphs">VOLUME UP/DOWN</text>
<text x="514.60" y="412.5" font-size="26.3" textLength="273.38" lengthAdjust="spacingAndGlyphs">Swipe up/Swipe down</text>
<text x="513.96" y="481.0" font-size="30.3" textLength="212.30" lengthAdjust="spacingAndGlyphs">CONVERSATION</text>
<text x="513.73" y="511.5" font-size="30.3" textLength="85.31" lengthAdjust="spacingAndGlyphs">MODE</text>
<text x="514.18" y="542.9" font-size="26.3" textLength="177.04" lengthAdjust="spacingAndGlyphs">Press and hold</text>
<text x="515.40" y="573.8" font-size="26.3" textLength="187.34" lengthAdjust="spacingAndGlyphs">with your palm</text>
<text x="434.31" y="22.8" font-size="29.5" textLength="38.87" lengthAdjust="spacingAndGlyphs">x 2</text>
</g>
<rect x="476.7" y="38.25" width="16" height="2.6" fill="#424245"/><rect x="476.7" y="46.15" width="16" height="2.6" fill="#424245"/>
<rect x="476.7" y="149.3" width="16" height="2.6" fill="#424245"/><rect x="476.7" y="157.20000000000002" width="16" height="2.6" fill="#424245"/>
<rect x="476.7" y="262.2" width="16" height="2.6" fill="#424245"/><rect x="476.7" y="270.09999999999997" width="16" height="2.6" fill="#424245"/>
<rect x="476.7" y="384.2" width="16" height="2.6" fill="#424245"/><rect x="476.7" y="392.09999999999997" width="16" height="2.6" fill="#424245"/>
<rect x="476.7" y="520.2" width="16" height="2.6" fill="#424245"/><rect x="476.7" y="528.1" width="16" height="2.6" fill="#424245"/>
<g fill="#47474a">
<circle cx="534" cy="624.3" r="7.8"/>
<path d="M514.8,659.8 A19.25,19.2 0 0,1 553.3,659.8 Z"/>
<circle cx="609.3" cy="624.3" r="7.8"/>
<path d="M589.9,659.8 A19.3,19.2 0 0,1 628.5,659.8 Z"/>
<rect x="556.9" y="601" width="24.1" height="11.7" rx="5.85"/>
<path d="M558.5,610 L557.8,615.8 L565,612Z"/>
<rect x="565.8" y="621.6" width="24.1" height="11.9" rx="5.95"/>
<path d="M582,631 L588.9,637.1 L589,627Z"/>
</g>
<path d="M521.17,629.66L518.58,630.73 M520.10,624.30L517.30,624.30 M521.17,618.94L518.58,617.87 M524.20,614.40L522.22,612.42 M528.74,611.37L527.67,608.78 M534.10,610.30L534.10,607.50 M539.46,611.37L540.53,608.78 M544.00,614.40L545.98,612.42 M547.03,618.94L549.62,617.87 M548.10,624.30L550.90,624.30 M547.03,629.66L549.62,630.73" stroke="#555" stroke-width="1.1" fill="none"/>
</svg>
</body></html>
